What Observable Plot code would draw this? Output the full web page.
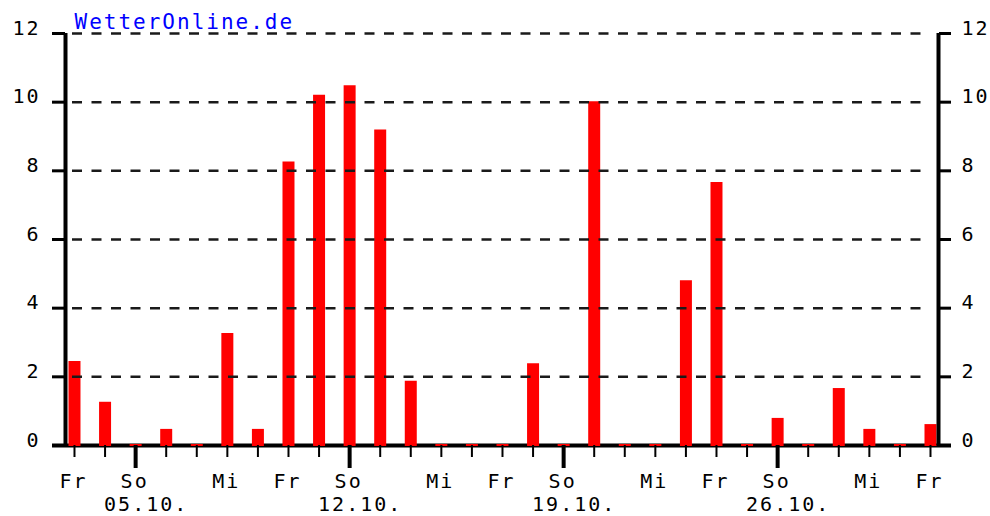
<!DOCTYPE html>
<html><head><meta charset="utf-8">
<script src="https://cdn.jsdelivr.net/npm/d3@7"></script>
<script src="https://cdn.jsdelivr.net/npm/@observablehq/plot@0.6"></script>
<style>body{margin:0;background:#fff;} #chart svg{display:block;}</style>
</head><body><div id="chart"></div>
<script>
// daily precipitation values (Fr 04.10. ... Fr 01.11.)
const values = [2.42, 1.23, 0, 0.44, 0, 3.23, 0.44, 8.23, 10.17, 10.45, 9.16, 1.84, 0, 0, 0, 2.35, 0, 9.98, 0, 0, 4.77, 7.63, 0, 0.76, 0, 1.63, 0.44, 0, 0.58];
const weekdayTickDays = [0, 2, 5, 7, 9, 12, 14, 16, 19, 21, 23, 26, 28];
const weekdayTickLabels = ["Fr", "So", "Mi", "Fr", "So", "Mi", "Fr", "So", "Mi", "Fr", "So", "Mi", "Fr"];
const sundayDays = [2, 9, 16, 23];
const dateDays = [1, 8, 15, 22];
const dateLabels = ["05.10.", "12.10.", "19.10.", "26.10."];
const yTicks = [0, 2, 4, 6, 8, 10, 12];
const gridValues = [2, 4, 6, 8, 10, 12];
const title = "WetterOnline.de";
const xDomain = [-0.294, 28.262];

const data = values.map((v, i) => ({day: i, value: v}));
const allDays = values.map((v, i) => i);
const wk = weekdayTickDays.map((d, i) => ({day: d, label: weekdayTickLabels[i]}));
const dt = dateDays.map((d, i) => ({day: d, label: dateLabels[i]}));

const chart = Plot.plot({
  width: 990, height: 516,
  marginLeft: 65, marginRight: 52, marginTop: 33, marginBottom: 71,
  style: {fontFamily: "'DejaVu Sans Mono', monospace", fontSize: "20px", letterSpacing: "2px", background: "#fff", color: "#000", overflow: "visible"},
  x: {domain: xDomain, axis: null},
  y: {domain: [0, 12], axis: null},
  marks: [
    // x axis baseline
    Plot.ruleY([0], {stroke: "#000", strokeWidth: 4, insetLeft: -13, insetRight: -13}),
    // bars
    Plot.ruleX(data, {x: "day", y1: "value", y2: 0, stroke: "#ff0000", strokeWidth: 12, insetTop: -1, insetBottom: -1}),
    // dashed grid on top of bars
    Plot.ruleY(gridValues, {stroke: "#1a1a1a", strokeWidth: 2.5, strokeDasharray: "10,9.5", insetLeft: 7, insetRight: 11}),
    // left / right axis lines
    Plot.ruleX([xDomain[0], xDomain[1]], {stroke: "#000", strokeWidth: 4}),
    // y ticks
    Plot.axisY(yTicks, {anchor: "left", tickSize: 13, strokeWidth: 3, text: null, label: null}),
    Plot.axisY(yTicks, {anchor: "right", tickSize: 12, strokeWidth: 3, text: null, label: null}),
    Plot.text(yTicks, {y: d => d, text: d => String(d), frameAnchor: "left", textAnchor: "end", lineAnchor: "bottom", dx: -25, dy: 1, fill: "#000", fontSize: 20}),
    Plot.text(yTicks, {y: d => d, text: d => String(d), frameAnchor: "right", textAnchor: "start", lineAnchor: "bottom", dx: 23, dy: 1, fill: "#000", fontSize: 20}),
    // x ticks
    Plot.axisX(allDays, {anchor: "bottom", tickSize: 12, strokeWidth: 2, text: null, label: null}),
    Plot.axisX(sundayDays, {anchor: "bottom", tickSize: 23, strokeWidth: 4, text: null, label: null}),
    Plot.text(wk, {x: "day", text: "label", frameAnchor: "bottom", textAnchor: "middle", lineAnchor: "bottom", dy: 42, dx: -1, fill: "#000", fontSize: 20}),
    Plot.text(dt, {x: "day", text: "label", frameAnchor: "bottom", textAnchor: "start", lineAnchor: "bottom", dy: 65, dx: -1, fill: "#000", fontSize: 20}),
    // source title
    Plot.text([title], {frameAnchor: "top-left", textAnchor: "start", lineAnchor: "bottom", dx: 9, dy: -5, fill: "#0000ff", fontSize: 21})
  ]
});
document.getElementById("chart").append(chart);
</script>
</body></html>
